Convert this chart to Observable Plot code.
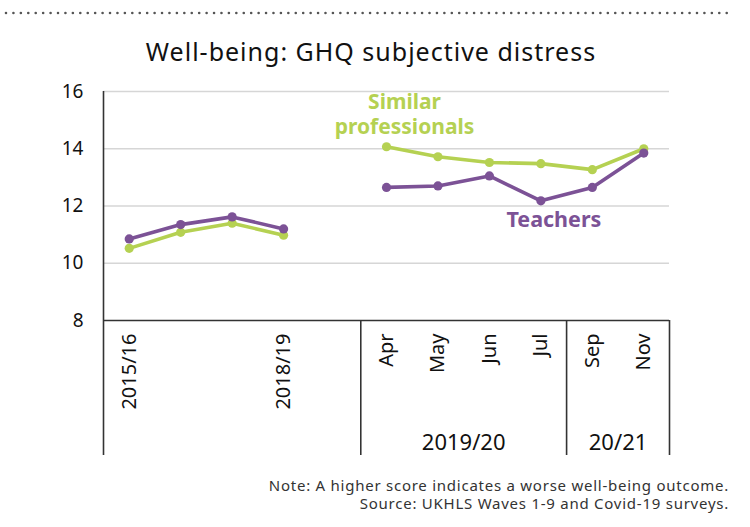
<!DOCTYPE html>
<html>
<head>
<meta charset="utf-8">
<script src="https://cdn.jsdelivr.net/npm/d3@7"></script>
<script src="https://cdn.jsdelivr.net/npm/@observablehq/plot@0.6"></script>
<style>
  html, body { margin: 0; padding: 0; background: #fff; }
  body { width: 750px; height: 527px; position: relative; overflow: hidden; font-family: "Noto Sans", sans-serif; color: #111; }
  #dots { position: absolute; left: 0; top: 0; }
  #title { position: absolute; left: 0; top: 35px; width: 742px; text-align: center; font-size: 25px; letter-spacing: 1px; line-height: 32px; color: #111; }
  #chart { position: absolute; left: 0; top: 60px; }
  #caption { position: absolute; right: 21px; top: 476px; text-align: right; font-size: 15px; letter-spacing: 0.75px; line-height: 18px; color: #333; }
</style>
</head>
<body>
<svg id="dots" width="750" height="30"><line x1="6" y1="13" x2="728" y2="13" stroke="#555" stroke-width="2.6" stroke-linecap="round" stroke-dasharray="0 7.43"></line></svg>
<div id="title">Well-being: GHQ subjective distress</div>
<div id="chart"></div>
<div id="caption">Note: A higher score indicates a worse well-being outcome.<br>Source: UKHLS Waves 1-9 and Covid-19 surveys.</div>
<script>
// ---- data ----
const categories = ["2015/16", "2016/17", "2017/18", "2018/19", "", "Apr", "May", "Jun", "Jul", "Sep", "Nov"];
const tickLabels = ["2015/16", "", "", "2018/19", "", "Apr", "May", "Jun", "Jul", "Sep", "Nov"];
const teachers = [10.85, 11.35, 11.62, 11.2, null, 12.65, 12.7, 13.05, 12.18, 12.65, 13.85];
const similar  = [10.52, 11.08, 11.4, 10.98, null, 14.07, 13.72, 13.52, 13.48, 13.27, 14.0];
const groups = [
  {label: "2019/20", from: "Apr", to: "Jul"},
  {label: "20/21", from: "Sep", to: "Nov"}
];
const yTicks = [8, 10, 12, 14, 16];

const purple = "#7c5296";
const green = "#b5d152";

const idx = c => categories.indexOf(c);
const rows = categories.map((c, i) => ({i, c, teachers: teachers[i], similar: similar[i]}));
const groupRows = groups.map(g => ({label: g.label, x: (idx(g.from) + idx(g.to)) / 2, x0: idx(g.from) - 0.5, x1: idx(g.to) + 0.5}));
const bounds = [-0.5, ...groupRows.map(g => g.x0), categories.length - 0.5];

const chart = Plot.plot({
  width: 750,
  height: 420,
  marginLeft: 103,
  marginRight: 81,
  marginTop: 31,
  marginBottom: 160,
  style: {fontFamily: "Noto Sans, sans-serif", background: "transparent", color: "#111"},
  x: {type: "linear", domain: [-0.5, categories.length - 0.5]},
  y: {domain: [8, 16]},
  marks: [
    Plot.ruleY(yTicks.filter(d => d > 8), {stroke: "#d6d6d6", strokeWidth: 1.6}),
    Plot.ruleY([8], {stroke: "#333", strokeWidth: 1.6}),
    Plot.ruleX([-0.5], {y1: 8, y2: 16, stroke: "#333", strokeWidth: 1.6}),
    Plot.ruleX(bounds, {y1: 8, y2: 8, insetBottom: -135, stroke: "#333", strokeWidth: 1.6}),
    Plot.axisY({ticks: yTicks, tickSize: 0, tickPadding: 20, fontSize: 19, label: null}),
    Plot.axisX({ticks: d3.range(categories.length).filter(i => tickLabels[i] !== ""), tickFormat: i => tickLabels[i], tickRotate: -90, tickSize: 0, tickPadding: 13, fontSize: 20, label: null}),
    Plot.text(groupRows, {x: "x", y: 8, text: "label", dy: 122, fontSize: 22}),
    Plot.line(rows, {x: "i", y: "similar", stroke: green, strokeWidth: 3.6}),
    Plot.dot(rows.filter(d => d.similar != null), {x: "i", y: "similar", r: 4.6, fill: green}),
    Plot.line(rows, {x: "i", y: "teachers", stroke: purple, strokeWidth: 3.6}),
    Plot.dot(rows.filter(d => d.teachers != null), {x: "i", y: "teachers", r: 4.6, fill: purple}),
    Plot.text([rows[idx("Apr")]], {x: "i", y: "similar", text: () => "Similar\nprofessionals", dx: 18, dy: -33, fill: green, fontSize: 21, fontWeight: "bold", lineHeight: 1.2}),
    Plot.text([rows[idx("Jul")]], {x: "i", y: "teachers", text: () => "Teachers", dx: 13, dy: 19, fill: purple, fontSize: 21.5, fontWeight: "bold"})
  ]
});
document.getElementById("chart").appendChild(chart);
</script>
</body>
</html>
